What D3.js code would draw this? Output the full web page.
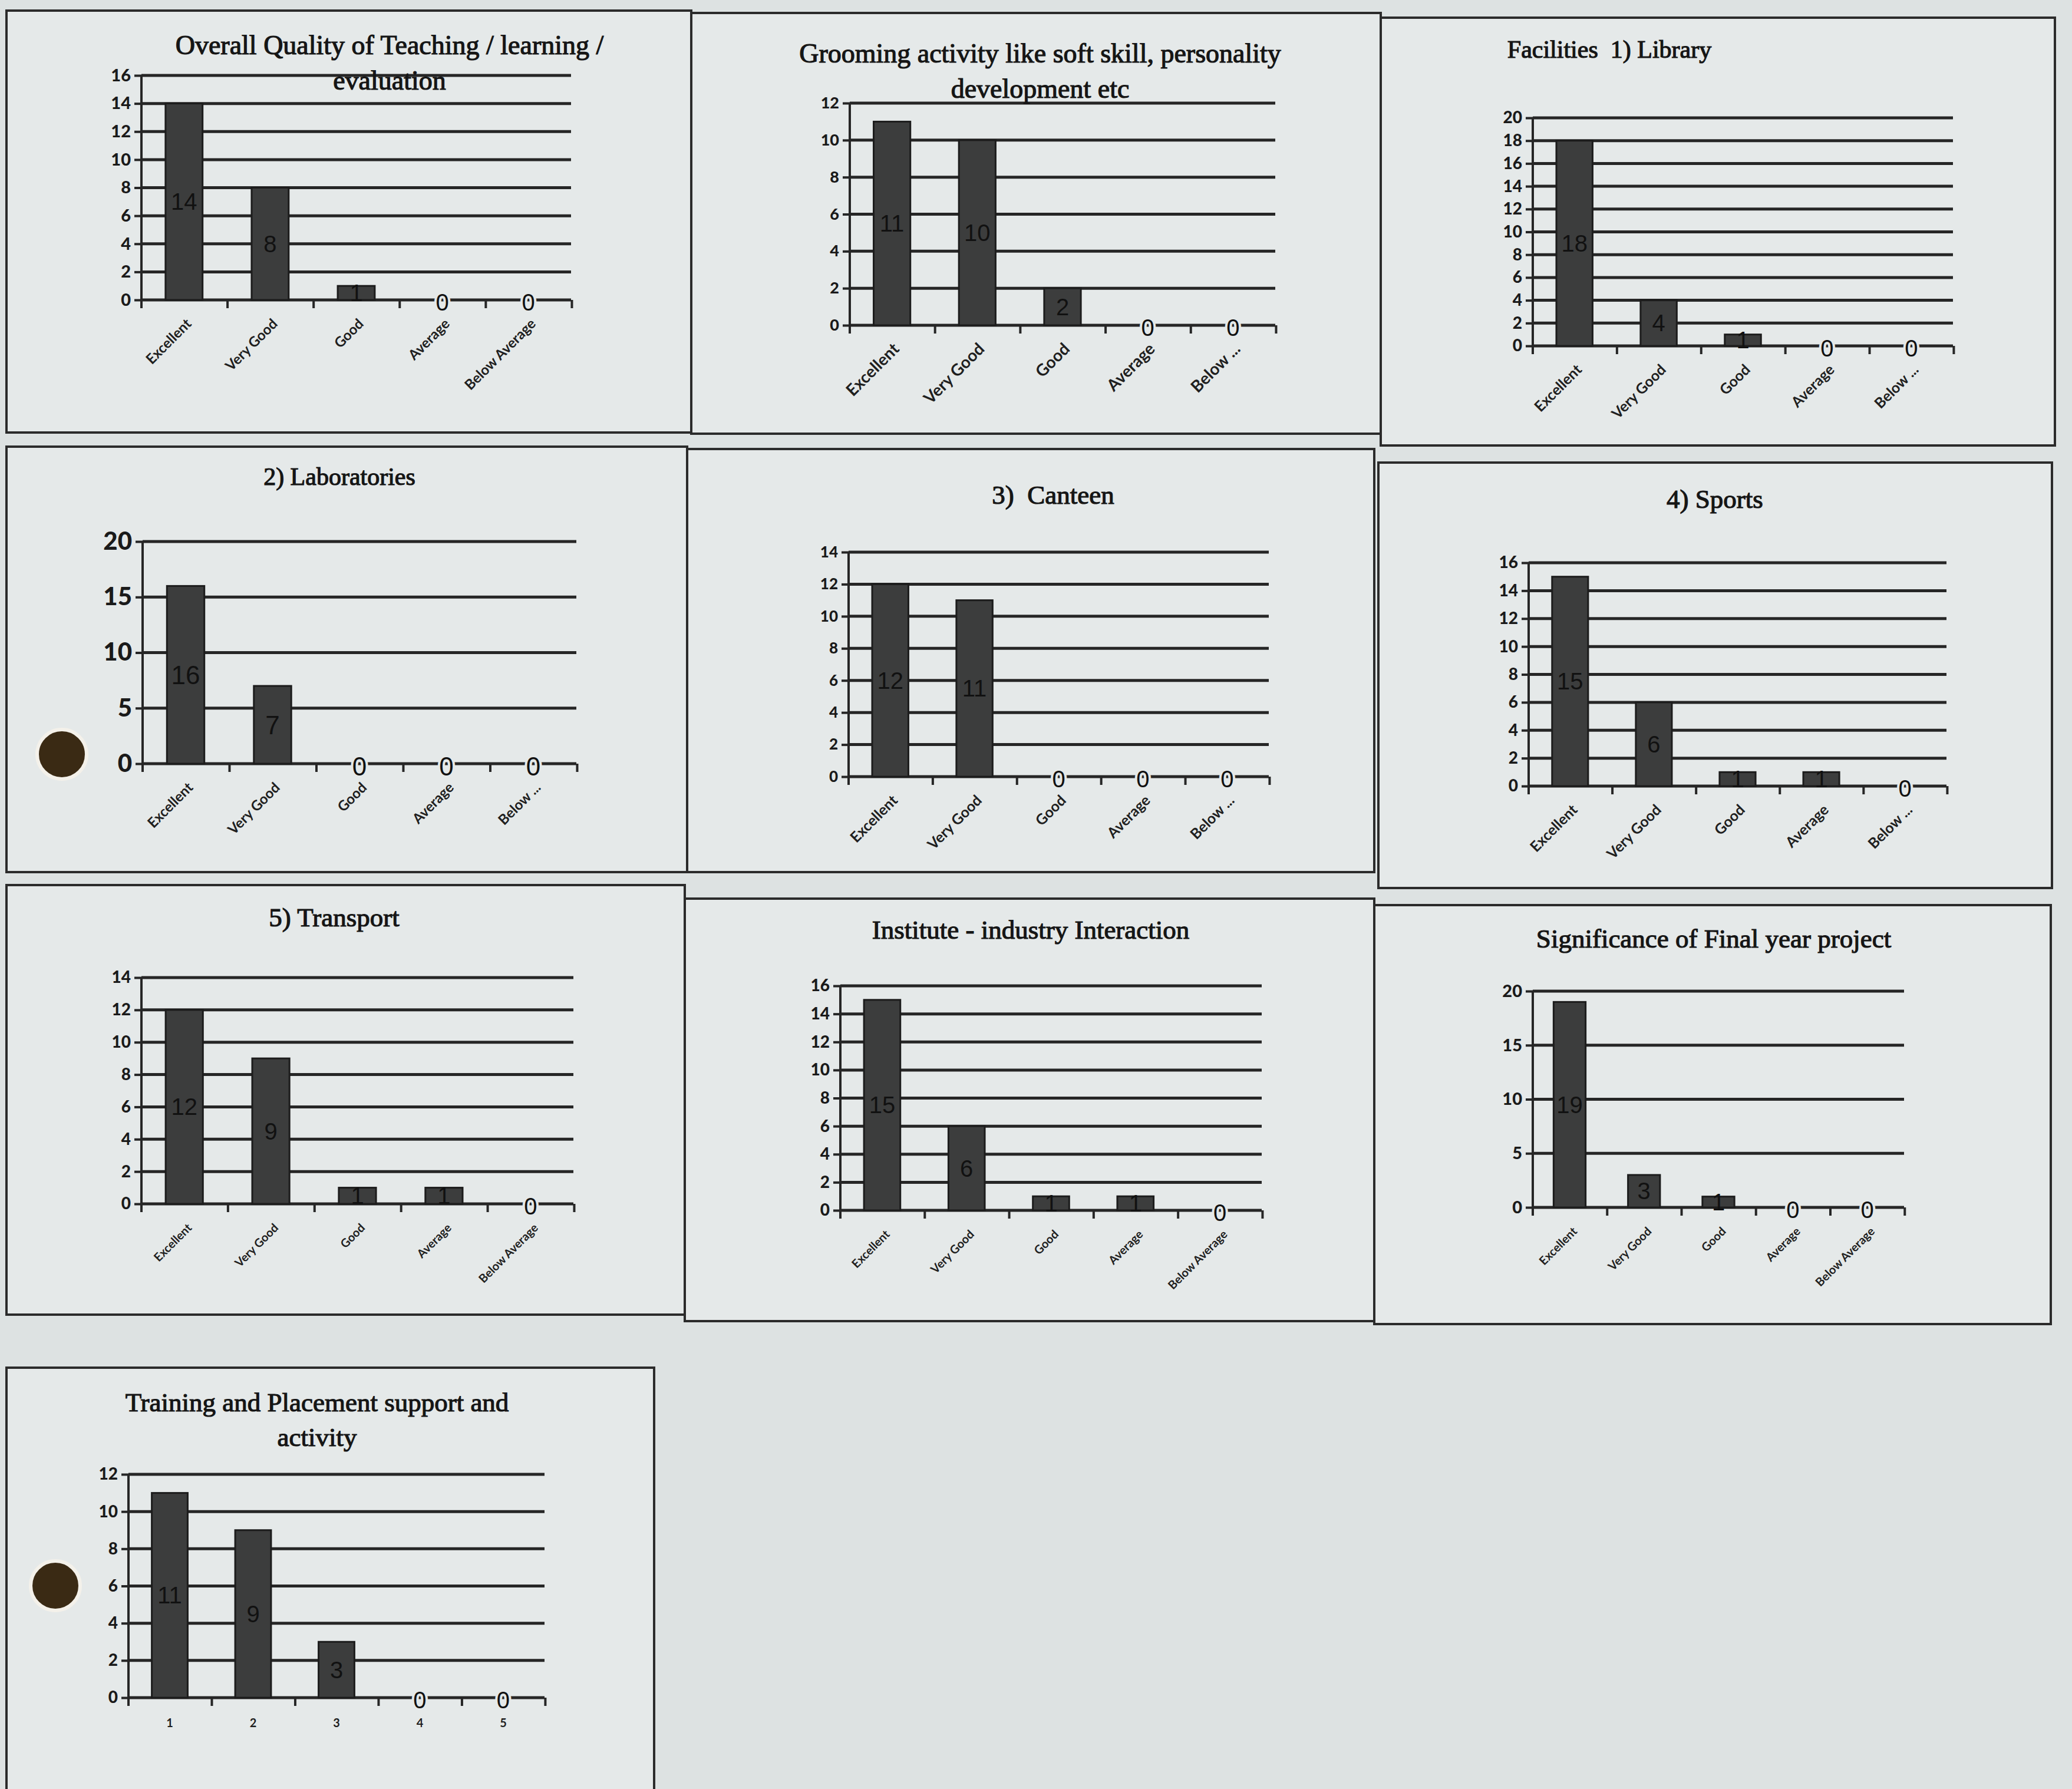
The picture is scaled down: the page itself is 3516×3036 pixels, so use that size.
<!DOCTYPE html>
<html>
<head>
<meta charset="utf-8">
<script src="https://cdn.jsdelivr.net/npm/d3@7"></script>
<style>
body { margin: 0; background: #dde2e2; }
.title { font-family: "Liberation Serif", serif; fill: #151515; stroke: #151515; stroke-width: 1.2px; white-space: pre; }
.tick text { font-family: Lato, "Liberation Sans", sans-serif; font-weight: 900; fill: #1a1a1a; }
.catLabel { font-family: Lato, "Liberation Sans", sans-serif; font-weight: 700; fill: #1f1f1f; }
.valLabel { font-family: "Liberation Sans", sans-serif; fill: #111; }
</style>
</head>
<body>
<script>
//execute script when window is loaded
window.onload = function(){

    //SVG dimension variables
    var w = 3516, h = 3036;

    //category names
    var ratingCats = ["Excellent", "Very Good", "Good", "Average", "Below Average"];
    var ratingCatsShort = ["Excellent", "Very Good", "Good", "Average", "Below ..."];
    var numberCats = ["1", "2", "3", "4", "5"];

    //chart titles (one entry per line)
    var titles = [
        ["Overall Quality of Teaching / learning /", "evaluation"],
        ["Grooming activity like soft skill, personality", "development etc"],
        ["Facilities  1) Library"],
        ["2) Laboratories"],
        ["3)  Canteen"],
        ["4) Sports"],
        ["5) Transport"],
        ["Institute - industry Interaction"],
        ["Significance of Final year project"],
        ["Training and Placement support and", "activity"]
    ];

    //series values, one array per chart
    var teachingVals = [14, 8, 1, 0, 0];
    var groomingVals = [11, 10, 2, 0, 0];
    var libraryVals = [18, 4, 1, 0, 0];
    var labVals = [16, 7, 0, 0, 0];
    var canteenVals = [12, 11, 0, 0, 0];
    var sportsVals = [15, 6, 1, 1, 0];
    var transportVals = [12, 9, 1, 1, 0];
    var industryVals = [15, 6, 1, 1, 0];
    var projectVals = [19, 3, 1, 0, 0];
    var placementVals = [11, 9, 3, 0, 0];

    //y axis tick maximum and step per chart
    var axisMax = [16, 12, 20, 20, 14, 16, 14, 16, 20, 12];
    var axisStep = [2, 2, 2, 5, 2, 2, 2, 2, 5, 2];

    var allVals = [teachingVals, groomingVals, libraryVals, labVals, canteenVals,
        sportsVals, transportVals, industryVals, projectVals, placementVals];
    var allCats = [ratingCats, ratingCatsShort, ratingCatsShort, ratingCatsShort, ratingCatsShort,
        ratingCatsShort, ratingCats, ratingCats, ratingCats, numberCats];

    //panel layout: box, plot area, title position, font sizes
    var layout = [
        {bx: 11, by: 18, bw: 1162, bh: 716, px: 240, pr: 969, pt: 128, pb: 509, tx: 661, ty: 92, ts: 46, tk: 29, cl: 24, rot: true},
        {bx: 1173, by: 22, bw: 1170, bh: 714, px: 1442, pr: 2164, pt: 175, pb: 552, tx: 1765, ty: 106, ts: 46, tk: 27, cl: 28, rot: true},
        {bx: 2343, by: 30, bw: 1144, bh: 726, px: 2601, pr: 3314, pt: 200, pb: 587, tx: 2731, ty: 98, ts: 42, tk: 28, cl: 25, rot: true},
        {bx: 11, by: 758, bw: 1155, bh: 722, px: 242, pr: 978, pt: 919, pb: 1296, tx: 576, ty: 823, ts: 42, tk: 42, cl: 24, rot: true},
        {bx: 1166, by: 762, bw: 1166, bh: 718, px: 1440, pr: 2153, pt: 937, pb: 1318, tx: 1787, ty: 855, ts: 45, tk: 26, cl: 25, rot: true},
        {bx: 2339, by: 785, bw: 1143, bh: 722, px: 2594, pr: 3303, pt: 955, pb: 1334, tx: 2910, ty: 862, ts: 45, tk: 28, cl: 25, rot: true},
        {bx: 11, by: 1502, bw: 1151, bh: 729, px: 240, pr: 973, pt: 1659, pb: 2043, tx: 567, ty: 1572, ts: 45, tk: 28, cl: 20, rot: true},
        {bx: 1162, by: 1525, bw: 1170, bh: 717, px: 1426, pr: 2141, pt: 1673, pb: 2054, tx: 1749, ty: 1593, ts: 45, tk: 28, cl: 20, rot: true},
        {bx: 2332, by: 1536, bw: 1148, bh: 711, px: 2601, pr: 3231, pt: 1682, pb: 2049, tx: 2908, ty: 1608, ts: 45, tk: 29, cl: 20, rot: true},
        {bx: 11, by: 2321, bw: 1099, bh: 740, px: 218, pr: 924, pt: 2502, pb: 2881, tx: 538, ty: 2395, ts: 45, tk: 28, cl: 20, rot: false}
    ];

    var ink = "#262626";

    //container block for svg
    var container = d3.select("body")
        .append("svg")
        .attr("width", w)
        .attr("height", h)
        .attr("class", "container")
        .style("background-color", "#dde2e2");

    layout.forEach(function(p, i){
        var vals = allVals[i], cats = allCats[i];
        var data = cats.map(function(c, j){ return {cat: c, value: vals[j]}; });
        var g = container.append("g").attr("class", "panel");

        //panel box
        g.append("rect")
            .attr("x", p.bx)
            .attr("y", p.by)
            .attr("width", p.bw)
            .attr("height", p.bh)
            .style("fill", "#e5e9e9")
            .style("stroke", "#2b2b2b")
            .style("stroke-width", 4);

        //scales
        var x = d3.scaleBand()
            .domain(cats)
            .range([p.px, p.pr])
            .paddingInner(0.57)
            .paddingOuter(0.28);

        var y = d3.scaleLinear()
            .domain([0, axisMax[i]])
            .range([p.pb, p.pt]);

        var ticks = d3.range(0, axisMax[i] + 0.001, axisStep[i]);

        //horizontal gridlines
        g.selectAll(".grid")
            .data(ticks.slice(1))
            .enter()
            .append("line")
            .attr("class", "grid")
            .attr("x1", p.px)
            .attr("x2", p.pr)
            .attr("y1", function(d){ return y(d); })
            .attr("y2", function(d){ return y(d); })
            .style("stroke", ink)
            .style("stroke-width", 5);

        //y axis
        var yAxis = g.append("g")
            .attr("transform", "translate(" + p.px + ",0)")
            .call(d3.axisLeft(y).tickValues(ticks).tickSize(12).tickPadding(6));
        yAxis.selectAll("line, path").style("stroke", ink).style("stroke-width", 4);
        yAxis.select(".domain").attr("d", "M0," + p.pb + "V" + p.pt);
        yAxis.selectAll(".tick text").style("font-size", p.tk + "px");

        //x axis line and category boundary ticks
        g.append("line")
            .attr("x1", p.px)
            .attr("x2", p.pr)
            .attr("y1", y(0))
            .attr("y2", y(0))
            .style("stroke", ink)
            .style("stroke-width", 5);

        g.selectAll(".xtick")
            .data(d3.range(cats.length + 1))
            .enter()
            .append("line")
            .attr("class", "xtick")
            .attr("x1", function(k){ return p.px + k * x.step(); })
            .attr("x2", function(k){ return p.px + k * x.step(); })
            .attr("y1", y(0))
            .attr("y2", y(0) + 14)
            .style("stroke", ink)
            .style("stroke-width", 4);

        //bars
        g.selectAll(".bar")
            .data(data)
            .enter()
            .append("rect")
            .attr("class", "bar")
            .attr("x", function(d){ return x(d.cat); })
            .attr("y", function(d){ return y(d.value); })
            .attr("width", x.bandwidth())
            .attr("height", function(d){ return y(0) - y(d.value); })
            .style("fill", "#3c3d3d")
            .style("stroke", "#1c1c1c")
            .style("stroke-width", 3);

        //value labels in the middle of each bar
        g.selectAll(".valLabel")
            .data(data)
            .enter()
            .append("text")
            .attr("class", "valLabel")
            .attr("text-anchor", "middle")
            .attr("dominant-baseline", "central")
            .attr("x", function(d){ return x(d.cat) + x.bandwidth() / 2; })
            .attr("y", function(d){ return d.value > 0 ? y(d.value / 2) : y(0) + 4; })
            .style("font-size", (i == 3 ? 44 : 40) + "px")
            .style("paint-order", "stroke")
            .style("stroke", function(d){ return d.value > 0 ? "none" : "#e5e9e9"; })
            .style("stroke-width", 8)
            .text(function(d){ return d.value; });

        //category labels
        g.selectAll(".catLabel")
            .data(data)
            .enter()
            .append("text")
            .attr("class", "catLabel")
            .attr("text-anchor", p.rot ? "end" : "middle")
            .attr("transform", function(d){
                var cx = x(d.cat) + x.bandwidth() / 2;
                return p.rot
                    ? "translate(" + (cx + 14) + "," + (y(0) + 42) + ") rotate(-45)"
                    : "translate(" + cx + "," + (y(0) + 50) + ")";
            })
            .style("font-size", p.cl + "px")
            .text(function(d){ return d.cat; });

        //title
        var title = g.append("text")
            .attr("class", "title")
            .attr("text-anchor", "middle")
            .attr("x", p.tx)
            .attr("y", p.ty)
            .style("font-size", p.ts + "px");
        title.selectAll("tspan")
            .data(titles[i])
            .enter()
            .append("tspan")
            .attr("x", p.tx)
            .attr("dy", function(d, k){ return k == 0 ? 0 : p.ts * 1.3; })
            .text(function(d){ return d; });
    });

    //punch holes in the paper
    container.selectAll(".hole")
        .data([[105, 1280], [94, 2691]])
        .enter()
        .append("circle")
        .attr("class", "hole")
        .attr("cx", function(d){ return d[0]; })
        .attr("cy", function(d){ return d[1]; })
        .attr("r", 42)
        .style("fill", "#3a2a14")
        .style("stroke", "#f4f1ea")
        .style("stroke-width", 6);
};
</script>
</body>
</html>
